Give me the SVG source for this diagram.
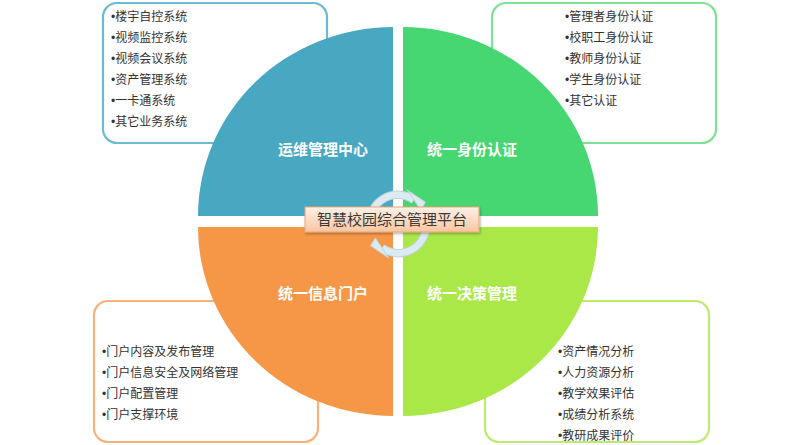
<svg xmlns="http://www.w3.org/2000/svg" width="810" height="445" viewBox="0 0 810 445">
  <defs>
    <linearGradient id="lblGrad" x1="0" y1="0" x2="0" y2="1">
      <stop offset="0" stop-color="#FFF1E6"/>
      <stop offset="1" stop-color="#F8C6A0"/>
    </linearGradient>
    <filter id="shadow" x="-10%" y="-30%" width="120%" height="160%">
      <feDropShadow dx="1" dy="1.5" stdDeviation="1.2" flood-color="#000" flood-opacity="0.3"/>
    </filter>
  </defs>
  <style>
    .box { fill: #ffffff; stroke-width: 2.2; }
    .item { font-family: "Noto Sans CJK SC", "Noto Sans", sans-serif; font-size: 12px; fill: #333333; }
    .b { font-family: "Liberation Sans", Arial, sans-serif; }
    .qlabel { font-family: "Noto Sans CJK SC", "Noto Sans", sans-serif; font-size: 15px; font-weight: bold; fill: #ffffff; text-anchor: middle; }
    .ringOut { fill: none; stroke: #BCD3DE; stroke-width: 8.5; }
    .ringIn { fill: none; stroke: #DCEAF1; stroke-width: 6.5; }
    .arrow { fill: #DCEAF1; stroke: #BCD3DE; stroke-width: 1; }
    .center { font-family: "Noto Sans CJK SC", "Noto Sans", sans-serif; font-size: 15px; fill: #3a3a3a; text-anchor: middle; }
  </style>
  <rect width="810" height="445" fill="#ffffff"/>

  <g id="box-ops">
    <rect class="box" x="103" y="3" width="224" height="140" rx="14" stroke="#6DBBD3"/>
    <text class="item" x="111" y="21"><tspan class="b">•</tspan>楼宇自控系统</text>
    <text class="item" x="111" y="42"><tspan class="b">•</tspan>视频监控系统</text>
    <text class="item" x="111" y="63"><tspan class="b">•</tspan>视频会议系统</text>
    <text class="item" x="111" y="84"><tspan class="b">•</tspan>资产管理系统</text>
    <text class="item" x="111" y="105"><tspan class="b">•</tspan>一卡通系统</text>
    <text class="item" x="111" y="126"><tspan class="b">•</tspan>其它业务系统</text>
  </g>
  <g id="box-auth">
    <rect class="box" x="492" y="3" width="224" height="140" rx="14" stroke="#7FE194"/>
    <text class="item" x="565" y="21"><tspan class="b">•</tspan>管理者身份认证</text>
    <text class="item" x="565" y="42"><tspan class="b">•</tspan>校职工身份认证</text>
    <text class="item" x="565" y="63"><tspan class="b">•</tspan>教师身份认证</text>
    <text class="item" x="565" y="84"><tspan class="b">•</tspan>学生身份认证</text>
    <text class="item" x="565" y="105"><tspan class="b">•</tspan>其它认证</text>
  </g>
  <g id="box-portal">
    <rect class="box" x="94" y="301" width="224" height="141" rx="14" stroke="#F7B27C"/>
    <text class="item" x="102" y="356"><tspan class="b">•</tspan>门户内容及发布管理</text>
    <text class="item" x="102" y="377"><tspan class="b">•</tspan>门户信息安全及网络管理</text>
    <text class="item" x="102" y="398"><tspan class="b">•</tspan>门户配置管理</text>
    <text class="item" x="102" y="419"><tspan class="b">•</tspan>门户支撑环境</text>
  </g>
  <g id="box-decision">
    <rect class="box" x="485" y="301" width="224" height="141" rx="14" stroke="#BCEB70"/>
    <text class="item" x="558" y="356"><tspan class="b">•</tspan>资产情况分析</text>
    <text class="item" x="558" y="377"><tspan class="b">•</tspan>人力资源分析</text>
    <text class="item" x="558" y="398"><tspan class="b">•</tspan>教学效果评估</text>
    <text class="item" x="558" y="419"><tspan class="b">•</tspan>成绩分析系统</text>
    <text class="item" x="558" y="440"><tspan class="b">•</tspan>教研成果评价</text>
  </g>

  <g id="q-ops">
    <path d="M393,216 L198,216 A195,189 0 0 1 393,27 Z" fill="#48A8C2"/>
    <text class="qlabel" x="323" y="155">运维管理中心</text>
  </g>
  <g id="q-auth">
    <path d="M403,216 L403,27 A195,189 0 0 1 598,216 Z" fill="#46D672"/>
    <text class="qlabel" x="472" y="155">统一身份认证</text>
  </g>
  <g id="q-portal">
    <path d="M393,227 L393,416 A195,189 0 0 1 198,227 Z" fill="#F59747"/>
    <text class="qlabel" x="323" y="299">统一信息门户</text>
  </g>
  <g id="q-decision">
    <path d="M403,227 L598,227 A195,189 0 0 1 403,416 Z" fill="#AAE847"/>
    <text class="qlabel" x="472" y="299">统一决策管理</text>
  </g>

  <g id="connectors">
    <path class="ringOut" d="M370.4,228.9 A28,28 0 0 1 413.9,200.0"/>
    <path class="ringOut" d="M425.6,219.1 A28,28 0 0 1 382.1,248.0"/>
    <path class="ringIn" d="M370.4,228.9 A28,28 0 0 1 413.9,200.0"/>
    <path class="ringIn" d="M425.6,219.1 A28,28 0 0 1 382.1,248.0"/>
    <polygon class="arrow" points="407.2,189.9 420.7,210.1 425.5,202.2"/>
    <polygon class="arrow" points="388.8,258.1 375.3,237.9 370.5,245.8"/>
  </g>

  <g id="center">
    <rect x="305" y="207" width="174" height="25" fill="url(#lblGrad)" stroke="#E8A77C" stroke-width="1" filter="url(#shadow)"/>
    <text class="center" x="392" y="225">智慧校园综合管理平台</text>
  </g>
</svg>
